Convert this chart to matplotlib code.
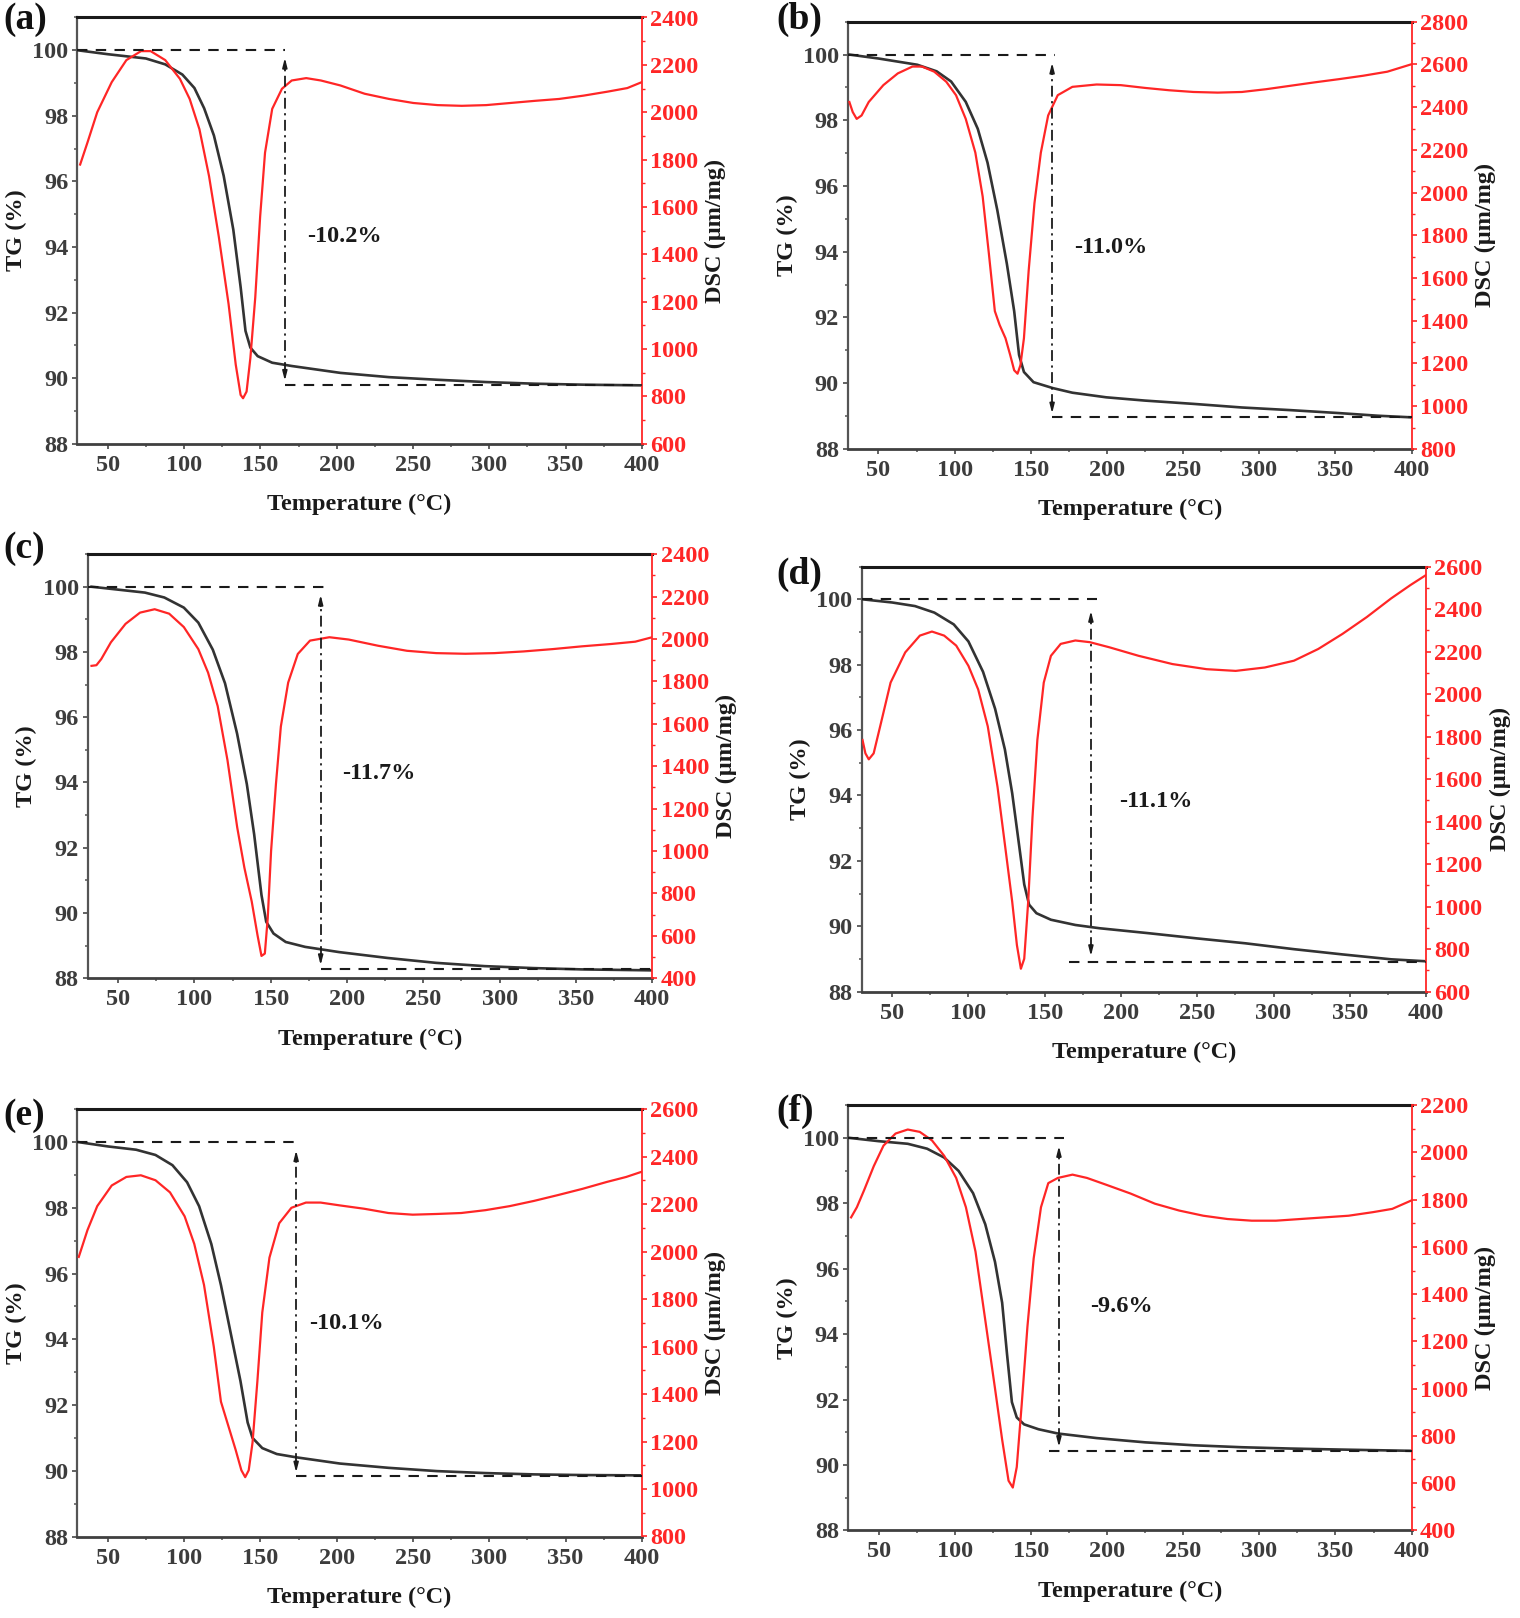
import matplotlib
matplotlib.use('Agg')
import matplotlib.pyplot as plt
from matplotlib.ticker import MultipleLocator

plt.rcParams['font.family'] = ['Liberation Serif', 'DejaVu Serif']
plt.rcParams['font.weight'] = 'bold'
plt.rcParams['mathtext.default'] = 'regular'

# ---------------- data ----------------
panel_labels = ['(a)', '(b)', '(c)', '(d)', '(e)', '(f)']
loss_labels = ['-10.2%', '-11.0%', '-11.7%', '-11.1%', '-10.1%', '-9.6%']
dsc_limits = [(600, 2400), (800, 2800), (400, 2400), (600, 2600), (800, 2600), (400, 2200)]
final_mass = [89.80, 88.96, 88.27, 88.91, 89.83, 90.41]

a_tg_T = [30.2, 50, 74.9, 87.6, 98.8, 106.7, 113.1, 119.5, 125.9, 132.2, 137.0, 140.2, 143.4, 148.2,
          157.7, 170.5, 202.4, 234.3, 266.1, 298, 329.9, 361.8, 400]
a_tg = [100.0, 99.88, 99.75, 99.57, 99.26, 98.85, 98.23, 97.4, 96.17, 94.53, 92.78, 91.44, 90.93, 90.67,
        90.47, 90.37, 90.16, 90.03, 89.95, 89.88, 89.83, 89.8, 89.78]
a_dsc_T = [31.8, 36.6, 43, 52.5, 62.1, 71.7, 78, 87.6, 97.2, 103.6, 110, 116.3, 122.7, 129.1, 133.8, 137,
           138.6, 140.9, 143.4, 146.6, 149.8, 153, 157.7, 164.1, 170.5, 180, 189.6, 202.4, 218.3, 234.3,
           250.2, 266.1, 282, 298, 313.9, 329.9, 345.8, 361.8, 377.7, 390.5, 400]
a_dsc = [1779, 1872, 2000, 2127, 2220, 2258, 2258, 2220, 2141, 2056, 1928, 1730, 1474, 1190, 934, 806,
         792, 820, 962, 1218, 1559, 1829, 2014, 2099, 2134, 2144, 2134, 2113, 2078, 2056,
         2039, 2030, 2027, 2030, 2039, 2048, 2056, 2070, 2087, 2102, 2127]

b_tg_T = [30.9, 50, 75.5, 88.2, 97.7, 107.3, 115.2, 121.6, 128, 134.3, 139.1, 142.3, 145.5, 151.8, 164.5,
          177.3, 199.5, 225, 256.8, 288.6, 320.4, 352.3, 377.7, 400]
b_tg = [100, 99.88, 99.69, 99.49, 99.18, 98.56, 97.74, 96.71, 95.27, 93.63, 92.19, 90.86, 90.34, 90.03,
        89.85, 89.71, 89.57, 89.47, 89.37, 89.26, 89.18, 89.09, 89.01, 88.96]
b_dsc_T = [30.9, 33.1, 35.7, 38.9, 43.6, 53.2, 62.7, 72.3, 78.6, 86.6, 94.5, 100.9, 107.3, 113.6, 118.4,
           122.5, 126.4, 129.5, 133.4, 136.5, 139.1, 141.3, 143.2, 145.5, 148.6, 152.4, 156.6, 161.4,
           167.7, 177.3, 193.2, 209.1, 225, 240.9, 256.8, 272.7, 288.6, 304.5, 320.4, 336.3, 352.3,
           368.2, 384.1, 400]
b_dsc = [2424, 2377, 2345, 2361, 2424, 2503, 2558, 2590, 2590, 2566, 2519, 2456, 2345, 2187, 1982,
         1713, 1445, 1381, 1318, 1239, 1168, 1152, 1192, 1318, 1634, 1950, 2187, 2361,
         2456, 2495, 2506, 2503, 2490, 2479, 2471, 2468, 2471, 2484, 2500, 2516, 2531,
         2547, 2566, 2601]

c_tg_T = [32.5, 50, 67.5, 80.2, 93, 102.5, 112, 120, 127.9, 134.3, 139.1, 143.9, 147, 151.8, 159.8,
          172.5, 194.8, 226.6, 258.4, 290.2, 322, 353.9, 400]
c_tg = [100, 99.91, 99.82, 99.67, 99.36, 98.9, 98.07, 97.04, 95.5, 93.95, 92.41, 90.55, 89.73, 89.37,
        89.11, 88.96, 88.8, 88.62, 88.47, 88.37, 88.31, 88.27, 88.24]
c_dsc_T = [32.5, 35.7, 38.9, 45.2, 54.8, 64.3, 73.9, 83.4, 93, 102.5, 108.9, 115.2, 121.6, 128, 132.7,
           137.5, 141.3, 143.9, 146.1, 148, 150.2, 153.4, 156.6, 161.4, 167.7, 175.7, 188.4, 201.1,
           220.2, 239.3, 258.4, 277.5, 296.6, 315.7, 334.8, 353.9, 373, 388.9, 400]
c_dsc = [1873, 1876, 1905, 1984, 2071, 2124, 2140, 2119, 2056, 1952, 1841, 1683, 1429, 1111, 921,
         762, 603, 505, 516, 683, 1000, 1317, 1587, 1794, 1929, 1992, 2008, 1997,
         1968, 1944, 1933, 1930, 1933, 1941, 1952, 1965, 1976, 1987, 2008]

d_tg_T = [30, 50, 65, 77.7, 90.4, 100, 109.6, 117.5, 123.9, 128.7, 133.4, 136.6, 139.8, 144.6, 154.1,
          170.1, 186, 217.8, 249.7, 281.5, 313.4, 345.2, 377.1, 400]
d_tg = [100, 99.9, 99.79, 99.59, 99.23, 98.71, 97.78, 96.65, 95.41, 94.07, 92.42, 91.28, 90.66, 90.4,
        90.2, 90.04, 89.94, 89.79, 89.63, 89.48, 89.3, 89.14, 88.99, 88.93]
d_dsc_T = [30.6, 32.5, 34.7, 37.9, 42.7, 49, 58.6, 68.2, 76.1, 84.1, 92, 100, 106.4, 112.7, 119.1, 123.9,
           128.7, 131.8, 134.4, 136.6, 139.2, 142, 145.2, 149.4, 154.1, 160.5, 170.1, 179.6, 192.4,
           211.5, 233.8, 256.1, 275.2, 294.3, 313.4, 329.3, 345.2, 361.1, 377.1, 389.8, 400]
d_dsc = [1784, 1721, 1693, 1721, 1864, 2054, 2196, 2275, 2294, 2275, 2228, 2133, 2022, 1848, 1563, 1294,
         1024, 819, 708, 755, 1024, 1420, 1784, 2054, 2180, 2236, 2252, 2244, 2220,
         2180, 2141, 2117, 2109, 2125, 2157, 2212, 2283, 2362, 2450, 2513, 2560]

e_tg_T = [30.9, 50, 68.5, 81.2, 92.3, 101.9, 109.8, 117.8, 124.1, 130.5, 136.9, 141.6, 144.8, 151.2,
          160.7, 173.4, 202.1, 233.9, 265.7, 297.5, 329.3, 361.2, 400]
e_tg = [100, 99.87, 99.77, 99.61, 99.3, 98.78, 98.05, 96.9, 95.65, 94.19, 92.73, 91.47, 91.0, 90.69,
        90.51, 90.41, 90.22, 90.09, 89.99, 89.93, 89.89, 89.87, 89.86]
e_dsc_T = [30.9, 36.6, 43, 52.5, 62.1, 71.6, 81.2, 90.7, 100.3, 106.6, 113, 119.4, 124.1, 128.9, 133.7,
           137.5, 140, 142.3, 144.8, 148, 151.2, 155.9, 162.3, 170.3, 179.8, 189.4, 202.1, 218,
           233.9, 249.8, 265.7, 281.6, 297.5, 313.4, 329.3, 345.3, 361.2, 377.1, 389.8, 400]
e_dsc = [1978, 2091, 2192, 2279, 2315, 2322, 2301, 2250, 2149, 2033, 1860, 1600, 1368, 1267, 1166,
         1079, 1050, 1079, 1195, 1455, 1744, 1975, 2120, 2185, 2207, 2207, 2195, 2181,
         2163, 2156, 2159, 2163, 2175, 2192, 2214, 2239, 2265, 2294, 2315, 2337]

f_tg_T = [30.9, 50, 69.1, 81.8, 93, 102.5, 112, 120, 126.4, 131.1, 134.3, 137.5, 140.7, 145.5, 155,
          167.7, 193.2, 225, 256.8, 288.6, 320.4, 352.3, 400]
f_tg = [100, 99.9, 99.82, 99.67, 99.4, 98.99, 98.31, 97.36, 96.21, 94.96, 93.39, 91.92, 91.45, 91.24,
        91.09, 90.96, 90.82, 90.69, 90.6, 90.54, 90.5, 90.47, 90.43]
f_dsc_T = [31.9, 35.7, 40.5, 46.8, 53.2, 61.1, 69.1, 77, 85, 93, 100.9, 107.3, 113.6, 120, 126.4, 131.1,
           135.3, 138.1, 140.7, 143.9, 147.7, 151.8, 156.6, 161.4, 167.7, 177.3, 186.8, 199.5, 215.4,
           231.4, 247.3, 263.2, 279.1, 295, 310.9, 326.8, 342.7, 358.6, 374.5, 387.3, 400]
f_dsc = [1725, 1768, 1841, 1942, 2029, 2080, 2097, 2087, 2051, 1986, 1892, 1768, 1580, 1291, 1001, 784,
         610, 581, 668, 929, 1262, 1551, 1768, 1870, 1892, 1906, 1892, 1863, 1826,
         1783, 1754, 1732, 1718, 1711, 1711, 1718, 1725, 1732, 1747, 1761, 1797]

# annotation geometry (temperature of the dash-dot arrow, end of the upper dashed line,
# start of the lower dashed line, arrow tips, text position)
arrow_T = [166, 164, 182.7, 180.3, 173.4, 168.4]
top_dash_end = [166, 166, 184.6, 184.4, 175, 171.5]
low_dash_start = [166, 164, 182.7, 165.9, 173.4, 162]
arrow_top = [99.77, 99.75, 99.75, 99.64, 99.75, 99.75]
arrow_bottom = [89.92, 89.08, 88.4, 89.09, 89.95, 90.55]
text_xy = [(205, 94.32), (202.7, 94.14), (221, 94.26), (222.6, 93.81), (206.2, 94.48), (209.7, 94.85)]

tg_T = [a_tg_T, b_tg_T, c_tg_T, d_tg_T, e_tg_T, f_tg_T]
tg = [a_tg, b_tg, c_tg, d_tg, e_tg, f_tg]
dsc_T = [a_dsc_T, b_dsc_T, c_dsc_T, d_dsc_T, e_dsc_T, f_dsc_T]
dsc = [a_dsc, b_dsc, c_dsc, d_dsc, e_dsc, f_dsc]

# ---------------- layout (pixels) ----------------
W, H = 1520, 1618
boxes = [(77.4, 641.8, 17.5, 443.7),
         (848.0, 1411.6, 21.7, 448.9),
         (87.7, 652.2, 554.1, 978.2),
         (861.6, 1426.1, 566.5, 991.7),
         (77.4, 641.8, 1109.3, 1536.5),
         (848.2, 1411.6, 1105.2, 1530.3)]
label_pos = [(3, 2), (776, 2), (3, 531), (776, 557), (3, 1098), (776, 1094)]

RED = '#ff2626'
GREY = '#3c3c3c'
TICK_FS = 17.5
LABEL_FS = 17.5

fig = plt.figure(figsize=(W / 100, H / 100), dpi=100)

for i in range(6):
    l, r, t, b = boxes[i]
    ax = fig.add_axes([l / W, 1 - b / H, (r - l) / W, (b - t) / H])
    ax2 = ax.twinx()
    ax.set_zorder(1)
    ax2.set_zorder(2)
    ax.patch.set_visible(False)
    ax2.patch.set_visible(False)

    ax.set_xlim(30, 400)
    ax.set_ylim(88, 101)
    ax2.set_ylim(*dsc_limits[i])

    ax.xaxis.set_major_locator(MultipleLocator(50))
    ax.xaxis.set_minor_locator(MultipleLocator(25))
    ax.yaxis.set_major_locator(MultipleLocator(2))
    ax.yaxis.set_minor_locator(MultipleLocator(1))
    ax2.yaxis.set_major_locator(MultipleLocator(200))
    ax2.yaxis.set_minor_locator(MultipleLocator(100))

    # spines
    ax.spines['left'].set_color('#555555')
    ax.spines['left'].set_linewidth(1.6)
    ax.spines['bottom'].set_color('#404040')
    ax.spines['bottom'].set_linewidth(2.0)
    ax.spines['top'].set_color('#1a1a1a')
    ax.spines['top'].set_linewidth(2.2)
    ax.spines['right'].set_visible(False)
    for s in ['left', 'top', 'bottom']:
        ax2.spines[s].set_visible(False)
    ax2.spines['right'].set_color(RED)
    ax2.spines['right'].set_linewidth(1.3)

    ax.tick_params(axis='both', which='major', direction='out', length=3.5, width=1.3,
                   color='#555555', labelsize=TICK_FS, labelcolor=GREY, pad=3.0)
    ax.tick_params(axis='both', which='minor', direction='out', length=2, width=1.1, color='#555555')
    ax.tick_params(axis='x', which='major', pad=4.5)
    ax.tick_params(top=False, right=False, which='both')
    ax2.tick_params(axis='y', which='major', direction='out', length=3.5, width=1.2, color=RED,
                    labelsize=TICK_FS, labelcolor=RED, pad=2.5)
    ax2.tick_params(axis='y', which='minor', direction='out', length=2, width=1.0, color=RED)
    for lab in ax.get_xticklabels() + ax.get_yticklabels() + ax2.get_yticklabels():
        lab.set_fontweight('bold')

    # curves
    ax.plot(tg_T[i], tg[i], color='#333333', lw=1.9, solid_joinstyle='round', zorder=3)
    ax2.plot(dsc_T[i], dsc[i], color=RED, lw=1.6, solid_joinstyle='round', zorder=3)

    # guide lines and arrow, in TG coordinates
    tr = ax.transData
    ax2.plot([30, top_dash_end[i]], [100, 100], transform=tr, color='#1a1a1a', lw=1.5,
             ls=(0, (5, 4)), zorder=4)
    ax2.plot([low_dash_start[i], 400], [final_mass[i], final_mass[i]], transform=tr, color='#1a1a1a',
             lw=1.5, ls=(0, (5, 4)), zorder=4)
    vx = arrow_T[i]
    ax2.plot([vx, vx], [arrow_bottom[i] + 0.25, arrow_top[i] - 0.25], transform=tr, color='#1a1a1a',
             lw=1.3, ls=(0, (6, 2.5, 1.2, 2.5)), zorder=4)
    ax.annotate('', xy=(vx, arrow_top[i]), xytext=(vx, arrow_top[i] - 0.35),
                arrowprops=dict(arrowstyle='-|>,head_length=0.55,head_width=0.14', color='#1a1a1a',
                                lw=1.2, shrinkA=0, shrinkB=0), zorder=5)
    ax.annotate('', xy=(vx, arrow_bottom[i]), xytext=(vx, arrow_bottom[i] + 0.35),
                arrowprops=dict(arrowstyle='-|>,head_length=0.55,head_width=0.14', color='#1a1a1a',
                                lw=1.2, shrinkA=0, shrinkB=0), zorder=5)
    ax.text(text_xy[i][0], text_xy[i][1], loss_labels[i], fontsize=LABEL_FS, fontweight='bold',
            ha='center', va='center', color='#1a1a1a', zorder=6)

    # axis labels
    fig.text(((l + r) / 2) / W, 1 - (b + 61) / H, 'Temperature (°C)', fontsize=LABEL_FS,
             fontweight='bold', ha='center', va='center', color='#1a1a1a')
    fig.text((l - 61) / W, 1 - ((t + b) / 2) / H, 'TG (%)', fontsize=LABEL_FS, fontweight='bold',
             rotation=90, ha='center', va='center', color='#1a1a1a')
    fig.text((r + 74) / W, 1 - ((t + b) / 2) / H, 'DSC (μm/mg)', fontsize=LABEL_FS,
             fontweight='bold', rotation=90, ha='center', va='center', color='#1a1a1a')
    fig.text(label_pos[i][0] / W, 1 - label_pos[i][1] / H, panel_labels[i], fontsize=27,
             fontweight='bold', ha='left', va='top', color='#111111')

fig.savefig('out.png', dpi=100, facecolor='white')
